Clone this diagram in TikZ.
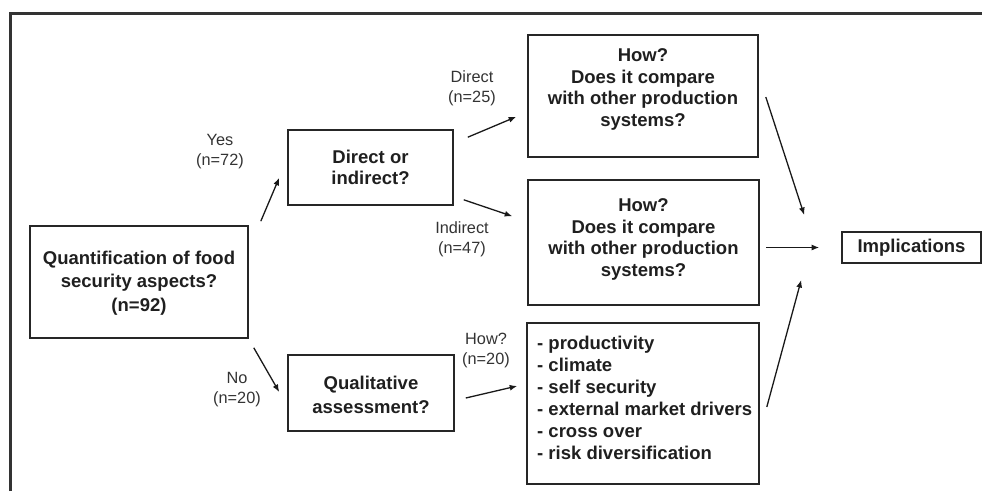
\documentclass[tikz,border=0pt]{standalone}
\usepackage{fontspec}
\setmainfont{Liberation Sans}
\usetikzlibrary{calc,arrows.meta}
\begin{document}
\begin{tikzpicture}[x=1pt,y=-1pt,
  boxed/.style={draw=black!85,line width=1.6pt,rectangle,inner sep=0pt},
  boxtxt/.style={align=center,text=black!88,font=\fontsize{18.5}{21.7}\selectfont\bfseries,inner sep=0pt},
  lbl/.style={align=center,text=black!80,font=\fontsize{16.3}{20}\selectfont,inner sep=0pt},
  conn/.style={draw=black!90,line width=1.3pt,-{Latex[length=7.5pt,width=6pt]}}]
\useasboundingbox (0,0) rectangle (982,491);
% frame
\draw[black!80,line width=3pt] (10,491) -- (10,13) -- (982,13);
% boxes
\node[boxed,minimum width=218pt,minimum height=112pt] (q) at (139,282) {};
\node[boxtxt,font=\fontsize{18.5}{23.5}\selectfont\bfseries] (qt) at (139,283) {Quantification of food\\security aspects?\\(n=92)};
\node[boxed,minimum width=165pt,minimum height=75pt] (d) at (370.5,167.5) {};
\node[boxtxt] (dt) at (370.5,167.5) {Direct or\\indirect?};
\node[boxed,minimum width=230pt,minimum height=122pt] (h1) at (643,96) {};
\node[boxtxt] (h1t) at (643,89.5) {How?\\Does it compare\\with other production\\systems?};
\node[boxed,minimum width=231pt,minimum height=125pt] (h2) at (643.5,242.5) {};
\node[boxtxt] (h2t) at (643.5,239.5) {How?\\Does it compare\\with other production\\systems?};
\node[boxed,minimum width=166pt,minimum height=76pt] (ql) at (371,393) {};
\node[boxtxt,font=\fontsize{18.5}{23.5}\selectfont\bfseries] (qlt) at (371,395) {Qualitative\\assessment?};
\node[boxed,minimum width=232pt,minimum height=161pt] (l) at (643,403.5) {};
\node[boxtxt,align=left,anchor=west,font=\fontsize{18.5}{22}\selectfont\bfseries] (lt) at (537,398) {- productivity\\- climate\\- self security\\- external market drivers\\- cross over\\- risk diversification};
\node[boxed,minimum width=139pt,minimum height=31pt] (imp) at (911.5,247.5) {};
\node[boxtxt] (impt) at (911.5,248) {Implications};
% labels
\node[lbl] (yes) at (220,152) {Yes\\(n=72)};
\node[lbl] (dir) at (472,88) {Direct\\(n=25)};
\node[lbl] (ind) at (462,239.5) {Indirect\\(n=47)};
\node[lbl] (no) at (237,390) {No\\(n=20)};
\node[lbl] (how) at (486,350.5) {How?\\(n=20)};
% connectors
\draw[conn] ($(q.north east)+(12,-4)$) -- ($(d.south west)+(-8,-28)$);
\draw[conn] ($(d.north east)+(14,8)$) -- ($(h1.south west)+(-11,-41)$);
\draw[conn] ($(d.south east)+(10,-6)$) -- ($(h2.north west)+(-15,37)$);
\draw[conn] ($(q.south east)+(5,9)$) -- ($(ql.west)+(-8,-1)$);
\draw[conn] ($(ql.east)+(11,5)$) -- ($(l.west)+(-9,-17.5)$);
\draw[conn] ($(imp.west)+(-75,0)$) -- ($(imp.west)+(-22,0)$);
\draw[conn] ($(h1.east)+(7,1)$) -- ($(imp.west)+(-37,-32.5)$);
\draw[conn] ($(l.east)+(7,3.5)$) -- ($(imp.west)+(-40,32.5)$);
\end{tikzpicture}
\end{document}
